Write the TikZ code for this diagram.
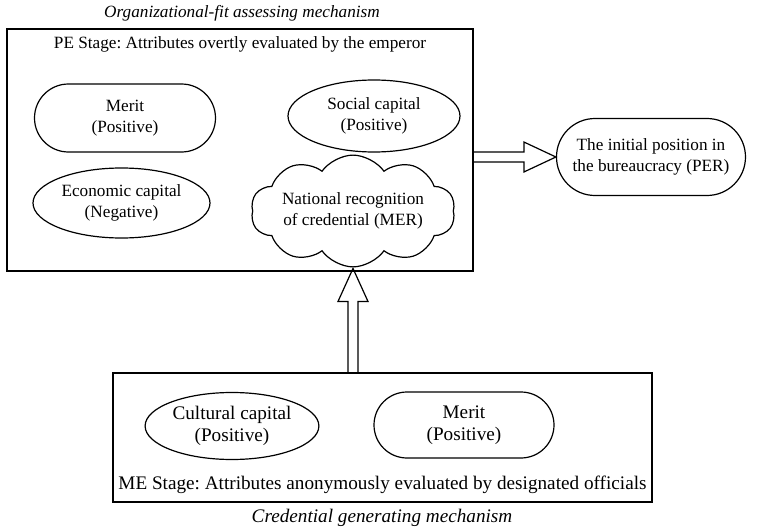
\documentclass[tikz,border=0pt]{standalone}
\usepackage{fontspec}
\setmainfont{Liberation Serif}
\usetikzlibrary{shapes.misc, shapes.geometric, shapes.symbols, calc}
\frenchspacing

\begin{document}
\begin{tikzpicture}[x=0.5pt, y=-0.5pt, line width=0.6pt,
    every node/.style={font=\fontsize{8.6}{10.2}\selectfont, align=center, inner sep=1pt},
    lower/.style={font=\fontsize{9.6}{11}\selectfont},
    stagebox/.style={draw, rectangle},
    pill/.style={draw, rounded rectangle},
    oval/.style={draw, ellipse},
    hollow/.style={draw, line join=miter}]
    \useasboundingbox (0,0) rectangle (762,530);
    % Stage boxes
    \node[stagebox, minimum width=233pt, minimum height=121pt] (pe) at (240,150) {};
    \node[stagebox, minimum width=269.5pt, minimum height=64.5pt] (me) at (382.5,437.5) {};
    \node[anchor=north] (petext) at ($(pe.north)+(0,6)$) {PE Stage: Attributes overtly evaluated by the emperor};
    \node[lower, anchor=south] (metext) at ($(me.south)+(0,-6)$) {ME Stage: Attributes anonymously evaluated by designated officials};
    \node[font=\fontsize{8.6}{10}\selectfont\itshape] (orgfit) at (242,13) {Organizational-fit assessing mechanism};
    \node[font=\fontsize{9.6}{11}\selectfont\itshape] (credgen) at (382,518) {Credential generating mechanism};
    % Attributes (PE)
    \node[pill, minimum width=92.5pt, minimum height=34pt] (merit) at (125,118) {Merit\\(Positive)};
    \node[oval, minimum width=86pt, minimum height=36pt] (social) at (374,116) {Social capital\\(Positive)};
    \node[oval, minimum width=88.5pt, minimum height=35pt] (econ) at (121.5,203) {Economic capital\\(Negative)};
    \node[cloud, draw, cloud puffs=10, cloud puff arc=110, aspect=2.4, inner sep=0pt] (mer) at (353,211) {National recognition\\of credential (MER)};
    % Attributes (ME)
    \node[lower, oval, minimum width=85pt, minimum height=33.5pt] (culture) at (232,426) {Cultural capital\\(Positive)};
    \node[lower, pill, minimum width=92pt, minimum height=33pt] (merittwo) at (464,425) {Merit\\(Positive)};
    % Outcome
    \node[pill, minimum width=96.5pt, minimum height=38.5pt] (per) at (651,157) {The initial position in\\the bureaucracy (PER)};
    % Hollow arrows
    \coordinate (rstart) at (pe.east |- per.west);
    \draw[hollow] ($(rstart)+(0,-5)$) -- ($(per.west)+(-32,-5)$) -- ($(per.west)+(-32,-15)$)
        -- (per.west) -- ($(per.west)+(-32,15)$) -- ($(per.west)+(-32,5)$) -- ($(rstart)+(0,5)$);
    \coordinate (utip) at ($(mer.south)+(0,1)$);
    \coordinate (ustart) at (utip |- me.north);
    \draw[hollow] ($(ustart)+(-5,0)$) -- ($(utip)+(-5,33)$) -- ($(utip)+(-15,33)$)
        -- (utip) -- ($(utip)+(15,33)$) -- ($(utip)+(5,33)$) -- ($(ustart)+(5,0)$);
\end{tikzpicture}
\end{document}
